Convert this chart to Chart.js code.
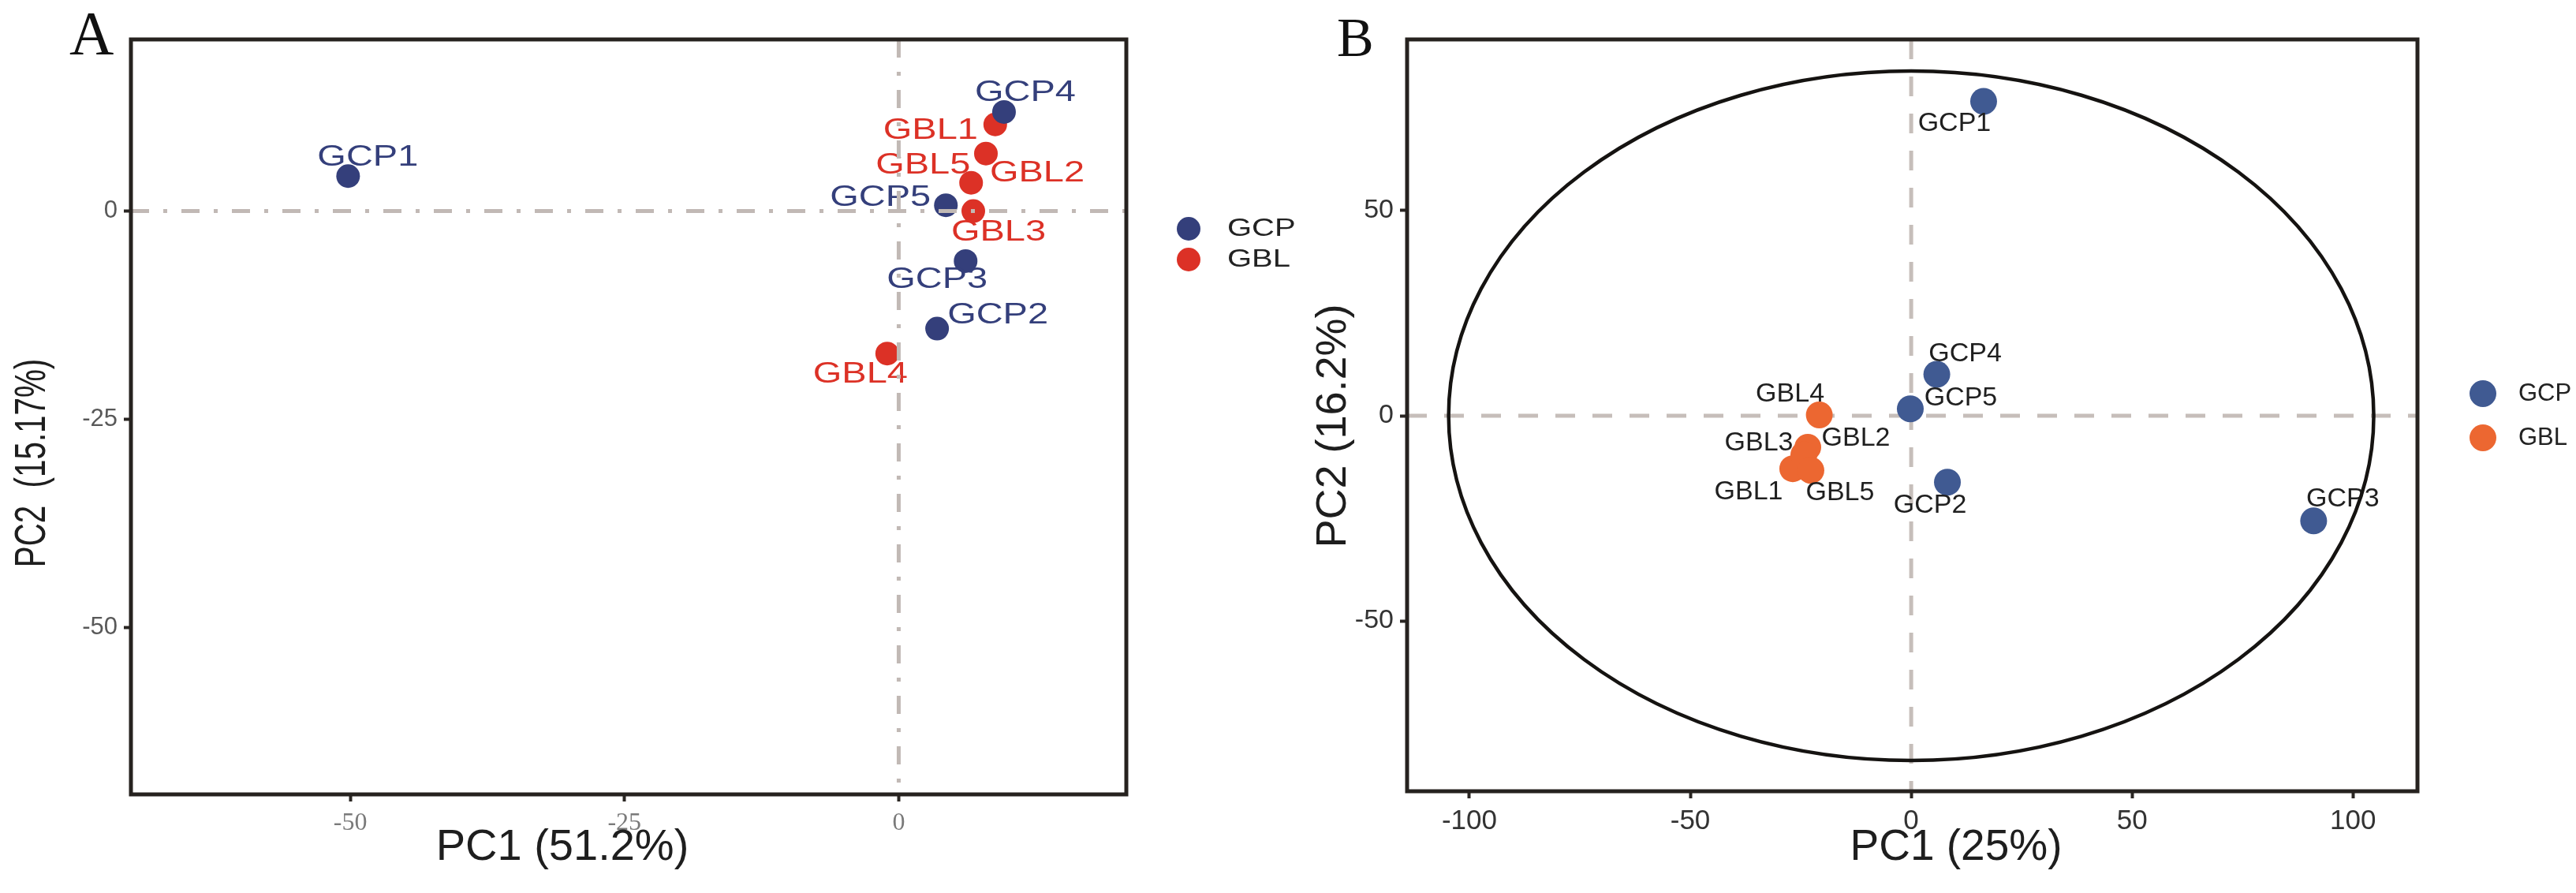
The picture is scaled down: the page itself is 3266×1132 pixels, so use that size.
<!DOCTYPE html>
<html>
<head>
<meta charset="utf-8">
<script src="https://cdn.jsdelivr.net/npm/chart.js@4.4.1/dist/chart.umd.min.js"></script>
<style>
  html, body { margin: 0; padding: 0; background: #fff; }
  body { width: 3266px; height: 1132px; position: relative; overflow: hidden; }
  .panel { position: absolute; top: 0; height: 1132px; }
  #panelA { left: 0; width: 1700px; }
  #panelB { left: 1633px; width: 1633px; }
</style>
</head>
<body>
<div class="panel" id="panelA"><canvas id="chartA"></canvas></div>
<div class="panel" id="panelB"><canvas id="chartB"></canvas></div>
<script>
// Panel A scores (PC1 / PC2)
const namesGcpA = ['GCP1', 'GCP2', 'GCP3', 'GCP4', 'GCP5'];
const pc1GcpA = [-50.2, 3.5, 6.1, 9.6, 4.3];
const pc2GcpA = [4.2, -14.1, -6.0, 11.9, 0.7];
const namesGblA = ['GBL1', 'GBL2', 'GBL3', 'GBL4', 'GBL5'];
const pc1GblA = [8.8, 7.95, 6.8, -1.05, 6.6];
const pc2GblA = [10.4, 6.9, 0.0, -17.1, 3.4];
const ticksA = [-50, -25, 0];

// Panel B scores (PC1 / PC2)
const namesGcpB = ['GCP1', 'GCP2', 'GCP3', 'GCP4', 'GCP5'];
const pc1GcpB = [16.4, 8.2, 91.1, 5.8, -0.2];
const pc2GcpB = [76.6, -16.2, -25.6, 10.1, 1.7];
const namesGblB = ['GBL1', 'GBL2', 'GBL3', 'GBL4', 'GBL5'];
const pc1GblB = [-26.8, -23.4, -24.3, -20.8, -22.7];
const pc2GblB = [-12.9, -7.7, -9.5, 0.2, -13.3];
const ticksXB = [-100, -50, 0, 50, 100];
const ticksYB = [-50, 0, 50];
// confidence ellipse (centre and semi-axes, data units)
const ellipseB = { cx: 0, cy: 0, rx: 104.7, ry: 84 };

// label placement relative to each point (pixels), kept apart from data
const labelOffGcpA = [[25, -23], [77, -17], [-36, 24], [27, -24], [-83, -9]];
const labelOffGblA = [[-82, 8], [65, 25], [32, 27], [-34, 27], [-61, -22]];
const labelOffGcpB = [[-37, 28], [-22, 29], [37, -28], [36, -26], [64, -14]];
const labelOffGblB = [[-56, 29], [61, -11], [-57, -15], [-37, -26], [37, 28]];

const SANS = "'Liberation Sans', Arial, sans-serif";
const SERIF = "'Liberation Serif', 'Times New Roman', serif";

function toPoints(xs, ys) {
    return xs.map((x, i) => ({ x: x, y: ys[i] }));
}

function drawText(ctx, text, x, y, o) {
    ctx.save();
    ctx.translate(x, y);
    if (o.rotate) ctx.rotate(o.rotate);
    ctx.scale(o.sx || 1, o.sy || 1);
    ctx.font = o.font;
    ctx.fillStyle = o.color || '#222';
    ctx.textAlign = o.align || 'center';
    ctx.textBaseline = o.baseline || 'middle';
    ctx.fillText(text, 0, 0);
    ctx.restore();
}

// reference lines, ellipse, point labels, frame, legend and titles
const pcaDecor = {
    id: 'pcaDecor',
    drawRefLines(chart, o) {
        const { ctx, chartArea: a, scales: { x, y } } = chart;
        ctx.save();
        ctx.strokeStyle = o.refColor;
        ctx.lineWidth = o.refWidth;
        ctx.setLineDash(o.refDash);
        const px = x.getPixelForValue(0);
        const py = y.getPixelForValue(0);
        ctx.beginPath();
        ctx.moveTo(a.left, py); ctx.lineTo(a.right, py);
        ctx.moveTo(px, a.top); ctx.lineTo(px, a.bottom);
        ctx.stroke();
        ctx.restore();
    },
    beforeDatasetsDraw(chart, args, o) {
        if (!o.refOnTop) this.drawRefLines(chart, o);
    },
    afterDatasetsDraw(chart, args, o) {
        const { ctx, scales: { x, y } } = chart;
        // point labels
        chart.data.datasets.forEach((ds) => {
            ds.data.forEach((p, i) => {
                const off = ds.labelOffsets[i];
                drawText(ctx, ds.names[i], x.getPixelForValue(p.x) + off[0], y.getPixelForValue(p.y) + off[1], {
                    font: o.labelFont, color: o.labelColor || ds.backgroundColor, sx: o.labelScaleX
                });
            });
        });
        if (o.refOnTop) this.drawRefLines(chart, o);
        if (o.ellipse) {
            const e = o.ellipse;
            const cx = x.getPixelForValue(e.cx), cy = y.getPixelForValue(e.cy);
            const rx = Math.abs(x.getPixelForValue(e.cx + e.rx) - cx);
            const ry = Math.abs(y.getPixelForValue(e.cy + e.ry) - cy);
            ctx.save();
            ctx.strokeStyle = '#151311';
            ctx.lineWidth = 4.5;
            ctx.beginPath();
            ctx.ellipse(cx, cy, rx, ry, 0, 0, Math.PI * 2);
            ctx.stroke();
            ctx.restore();
        }
    },
    afterDraw(chart, args, o) {
        const { ctx, chartArea: a } = chart;
        // panel frame
        ctx.save();
        ctx.strokeStyle = '#26221f';
        ctx.lineWidth = 5;
        ctx.strokeRect(a.left, a.top, a.right - a.left, a.bottom - a.top);
        ctx.restore();
        // legend
        const lg = o.legend;
        chart.data.datasets.forEach((ds, i) => {
            const cy = lg.y + i * lg.gap;
            ctx.save();
            ctx.fillStyle = ds.backgroundColor;
            ctx.beginPath();
            ctx.arc(lg.x, cy, lg.r, 0, Math.PI * 2);
            ctx.fill();
            ctx.restore();
            drawText(ctx, ds.label, lg.textX, cy, { font: lg.font, color: '#222', align: 'left', sx: lg.sx });
        });
        // axis titles and panel letter
        const t = o.titles;
        drawText(ctx, t.x.text, t.x.cx, t.x.cy, { font: t.x.font, color: '#1e1e1e' });
        drawText(ctx, t.y.text, t.y.cx, t.y.cy, { font: t.y.font, color: '#1e1e1e', rotate: -Math.PI / 2, sx: t.y.sx });
        drawText(ctx, o.letter.text, o.letter.x, o.letter.y, { font: o.letter.font, color: '#111', align: 'left', baseline: 'alphabetic' });
    }
};

function makePanel(canvasId, c) {
    return new Chart(document.getElementById(canvasId), {
        type: 'scatter',
        data: {
            datasets: [
                { label: 'GCP', data: toPoints(c.gcpX, c.gcpY), names: c.gcpNames, labelOffsets: c.gcpOff,
                  backgroundColor: c.gcpColor, pointRadius: c.radius, pointHoverRadius: c.radius, borderWidth: 0 },
                { label: 'GBL', data: toPoints(c.gblX, c.gblY), names: c.gblNames, labelOffsets: c.gblOff,
                  backgroundColor: c.gblColor, pointRadius: c.radius, pointHoverRadius: c.radius, borderWidth: 0 }
            ]
        },
        options: {
            responsive: true,
            maintainAspectRatio: false,
            animation: false,
            layout: { padding: { top: c.top, right: c.padRight, left: 0, bottom: 0 } },
            plugins: {
                legend: { display: false },
                tooltip: { enabled: false },
                pcaDecor: c.decor
            },
            scales: {
                x: {
                    type: 'linear', min: c.xMin, max: c.xMax,
                    afterBuildTicks: s => { s.ticks = c.xTicks.map(v => ({ value: v })); },
                    afterFit: s => { s.height = c.xAxisHeight; },
                    border: { display: false },
                    grid: { display: true, drawOnChartArea: false, drawTicks: true, tickLength: 9, tickColor: '#2a2623', tickWidth: 4 },
                    ticks: { font: c.xTickFont, color: c.tickColorX, padding: 8, maxRotation: 0 }
                },
                y: {
                    type: 'linear', min: c.yMin, max: c.yMax,
                    afterBuildTicks: s => { s.ticks = c.yTicks.map(v => ({ value: v })); },
                    afterFit: s => { s.width = c.yAxisWidth; },
                    border: { display: false },
                    grid: { display: true, drawOnChartArea: false, drawTicks: true, tickLength: 9, tickColor: '#2a2623', tickWidth: 4 },
                    ticks: { font: c.yTickFont, color: c.tickColorY, padding: 8 }
                }
            }
        },
        plugins: [pcaDecor]
    });
}

makePanel('chartA', {
    gcpNames: namesGcpA, gcpX: pc1GcpA, gcpY: pc2GcpA, gcpOff: labelOffGcpA,
    gblNames: namesGblA, gblX: pc1GblA, gblY: pc2GblA, gblOff: labelOffGblA,
    gcpColor: '#343f7b', gblColor: '#dc3126', radius: 15,
    xMin: -70, xMax: 20.75, yMin: -70, yMax: 20.6,
    xTicks: ticksA, yTicks: ticksA,
    top: 50, padRight: 272, xAxisHeight: 125, yAxisWidth: 166,
    xTickFont: { family: SERIF, size: 32 }, yTickFont: { family: SANS, size: 31 },
    tickColorX: '#7a7a7a', tickColorY: '#585858',
    decor: {
        refColor: '#c1b9b5', refWidth: 5, refDash: [23, 18, 5, 18], refOnTop: true,
        labelFont: '37px ' + SANS, labelScaleX: 1.27,
        legend: { x: 1507, y: 290, gap: 39, r: 15, textX: 1556, font: '32px ' + SANS, sx: 1.25 },
        titles: {
            x: { text: 'PC1 (51.2%)', cx: 713, cy: 1075, font: '56px ' + SANS },
            y: { text: 'PC2  (15.17%)', cx: 42, cy: 587, font: '56px ' + SANS, sx: 0.72 }
        },
        letter: { text: 'A', x: 88, y: 68, font: '78px ' + SERIF }
    }
});

makePanel('chartB', {
    gcpNames: namesGcpB, gcpX: pc1GcpB, gcpY: pc2GcpB, gcpOff: labelOffGcpB,
    gblNames: namesGblB, gblX: pc1GblB, gblY: pc2GblB, gblOff: labelOffGblB,
    gcpColor: '#405a92', gblColor: '#ec6731', radius: 17,
    xMin: -114.1, xMax: 114.6, yMin: -91.5, yMax: 91.7,
    xTicks: ticksXB, yTicks: ticksYB,
    top: 50, padRight: 201, xAxisHeight: 129, yAxisWidth: 151,
    xTickFont: { family: SANS, size: 35 }, yTickFont: { family: SANS, size: 34 },
    tickColorX: '#333', tickColorY: '#333',
    decor: {
        refColor: '#c6beba', refWidth: 5, refDash: [25, 22], refOnTop: false,
        labelFont: '34px ' + SANS, labelColor: '#1f1f1f', labelScaleX: 1,
        ellipse: ellipseB,
        legend: { x: 1515, y: 499, gap: 56, r: 17, textX: 1560, font: '31px ' + SANS, sx: 1 },
        titles: {
            x: { text: 'PC1 (25%)', cx: 847, cy: 1075, font: '55px ' + SANS },
            y: { text: 'PC2 (16.2%)', cx: 58, cy: 540, font: '54px ' + SANS, sx: 1 }
        },
        letter: { text: 'B', x: 62, y: 71, font: '70px ' + SERIF }
    }
});
</script>
</body>
</html>
